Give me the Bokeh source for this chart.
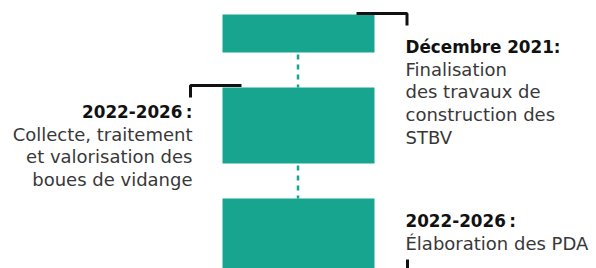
from bokeh.plotting import figure
from bokeh.models import ColumnDataSource
from bokeh.core.properties import value
from bokeh.embed import file_html
from bokeh.resources import INLINE

# ---- data ----
step_years = ["Décembre 2021:", "2022-2026\u2009:", "2022-2026\u2009:"]
step_descriptions = [
    ["Finalisation", "des travaux de", "construction des", "STBV"],
    ["Collecte, traitement", "et valorisation des", "boues de vidange"],
    ["Élaboration des PDA"],
]
step_sides = ["right", "left", "right"]

# ---- layout (page pixel coordinates) ----
W, H = 596, 268
TEAL = "#17a590"
FONT = "DejaVu Sans"
box_left, box_right = 222, 374
box_tops = [14, 87, 198]
box_bottoms = [52, 163, 280]
title_y = [46, 111, 220]
line_gap = 22.7
right_x = 405
left_x = 192

p = figure(width=W, height=H, x_range=(0, W), y_range=(H, 0),
           output_backend="svg", toolbar_location=None, min_border=0)
p.axis.visible = False
p.grid.visible = False
p.outline_line_color = None
p.background_fill_color = "white"
p.border_fill_color = "white"

src = ColumnDataSource(dict(left=[box_left] * 3, right=[box_right] * 3,
                            top=box_tops, bottom=box_bottoms))
p.quad(left="left", right="right", top="top", bottom="bottom", source=src,
       fill_color=TEAL, line_color=None)

# dotted connectors
cx = (box_left + box_right) / 2 - 0.5
for i in range(2):
    p.segment(x0=[cx], y0=[box_bottoms[i] + 2], x1=[cx], y1=[box_tops[i + 1]],
              line_color=TEAL, line_width=2.5, line_dash="5 5")

# brackets
bk = dict(line_color="#111111", line_width=3)
p.line(x=[356, 406.5, 406.5], y=[13, 13, 25], **bk)
p.line(x=[241, 190, 190], y=[85, 85, 97], **bk)
p.line(x=[407, 407], y=[259, 280], **bk)

# texts
for i, (yr, desc, side) in enumerate(zip(step_years, step_descriptions, step_sides)):
    x = right_x if side == "right" else left_x
    align = "left" if side == "right" else "right"
    p.text(x=[x], y=[title_y[i]], text=[yr], text_font=value(FONT),
           text_font_style="bold", text_font_size="16.8px", text_color="#111111",
           text_align=align, text_baseline="middle")
    ys = [title_y[i] + line_gap * (k + 1) for k in range(len(desc))]
    p.text(x=[x] * len(desc), y=ys, text=desc, text_font=value(FONT),
           text_font_size="18px", text_color="#383838",
           text_align=align, text_baseline="middle")

open("out.html", "w").write(file_html(p, INLINE))
